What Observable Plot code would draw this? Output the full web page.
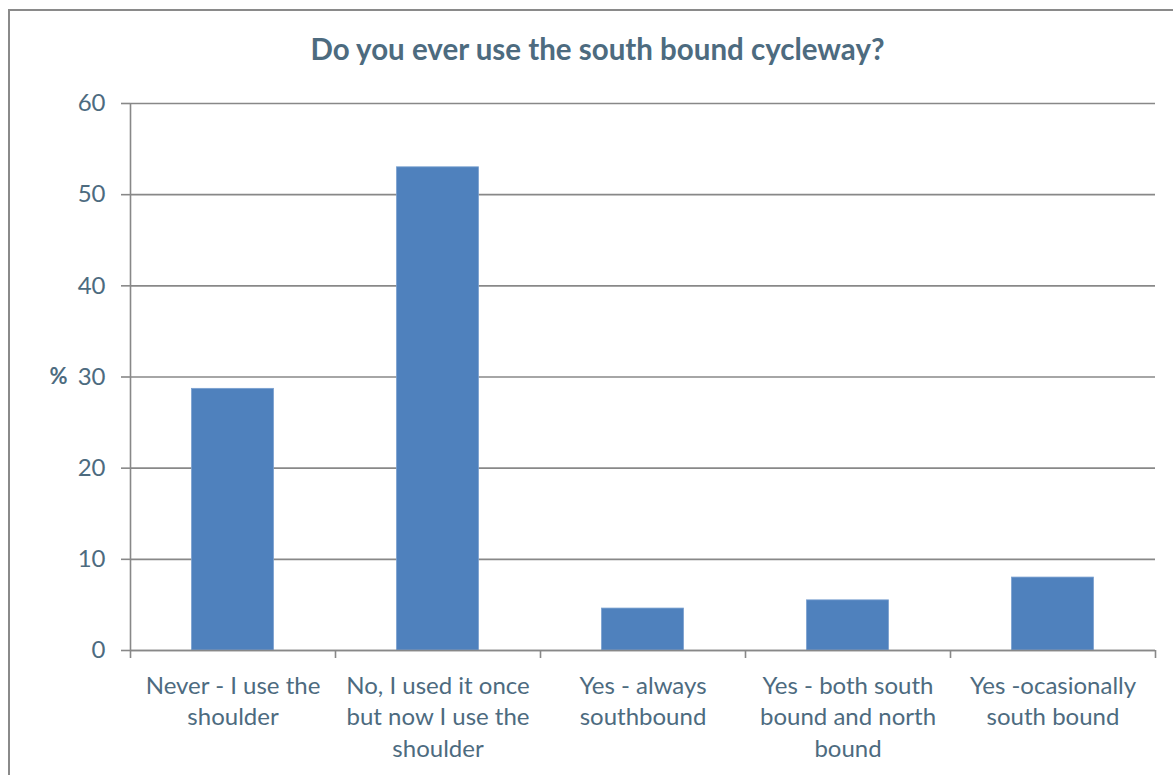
<!DOCTYPE html>
<html>
<head>
<meta charset="utf-8">
<script src="https://cdn.jsdelivr.net/npm/d3@7"></script>
<script src="https://cdn.jsdelivr.net/npm/@observablehq/plot@0.6"></script>
<style>
  html, body { margin: 0; padding: 0; background: #fff; overflow: hidden; }
  body { width: 1173px; height: 775px; position: relative; font-family: Lato, "Open Sans", sans-serif; }
  #frame { position: absolute; left: 8px; top: 9px; width: 1200px; height: 800px; border: 2px solid #8a8a8a; box-sizing: border-box; }
  #title { position: absolute; left: 11px; top: 31px; width: 1173px; text-align: center; font-weight: bold; font-size: 29.5px; color: #4d6b7f; }
  #chart { position: absolute; left: 0; top: 0; }
</style>
</head>
<body>
<div id="frame"></div>
<div id="title">Do you ever use the south bound cycleway?</div>
<div id="chart"></div>
<script>
// Survey answers and share of respondents (%)
const categories = [
  "Never - I use the shoulder",
  "No, I used it once but now I use the shoulder",
  "Yes - always southbound",
  "Yes - both south bound and north bound",
  "Yes -ocasionally south bound"
];
const tickLabels = [
  "Never - I use the\nshoulder",
  "No, I used it once\nbut now I use the\nshoulder",
  "Yes - always\nsouthbound",
  "Yes - both south\nbound and north\nbound",
  "Yes -ocasionally\nsouth bound"
];
const percents = [28.7, 53.0, 4.6, 5.5, 8.0];
const yTicks = [0, 10, 20, 30, 40, 50, 60];

const textColor = "#4d6b7f";
const lineColor = "#888888";
const barColor = "#4f81bd";

// each category occupies one unit slot on x; bars take the middle 40%
const rows = categories.map((c, i) => ({category: c, label: tickLabels[i], index: i, value: percents[i]}));
const slotEdges = d3.range(categories.length + 1);

const chart = Plot.plot({
  width: 1173,
  height: 775,
  marginLeft: 130,
  marginRight: 18,
  marginTop: 103,
  marginBottom: 125,
  style: {fontFamily: "Lato, 'Open Sans', sans-serif", color: textColor, background: "transparent"},
  x: {type: "linear", domain: [0, categories.length], axis: null},
  y: {domain: [0, 60], axis: null},
  marks: [
    Plot.ruleY(yTicks, {stroke: lineColor, strokeWidth: 1.6}),
    Plot.rectY(rows, {x1: d => d.index + 0.3, x2: d => d.index + 0.7, y: "value", fill: barColor, stroke: "#7aa0cf", strokeWidth: 0.8}),
    Plot.ruleX([0], {stroke: lineColor, strokeWidth: 1.6}),
    Plot.ruleY([0], {stroke: lineColor, strokeWidth: 1.6}),
    Plot.axisY({ticks: yTicks, tickSize: 9, tickPadding: 16, stroke: lineColor, strokeWidth: 1.6, fontSize: 24, fill: textColor, label: null}),
    Plot.axisX({ticks: slotEdges, tickSize: 8, tickFormat: () => "", stroke: lineColor, strokeWidth: 1.6, label: null}),
    Plot.text(rows, {x: d => d.index + 0.5, y: 0, text: "label", lineAnchor: "top", dy: 21, lineHeight: 1.31, fontSize: 24, fill: textColor}),
    Plot.text(["%"], {frameAnchor: "left", textAnchor: "middle", dx: -72, fontSize: 22, fontWeight: "bold", fill: textColor})
  ]
});
document.getElementById("chart").appendChild(chart);
</script>
</body>
</html>
